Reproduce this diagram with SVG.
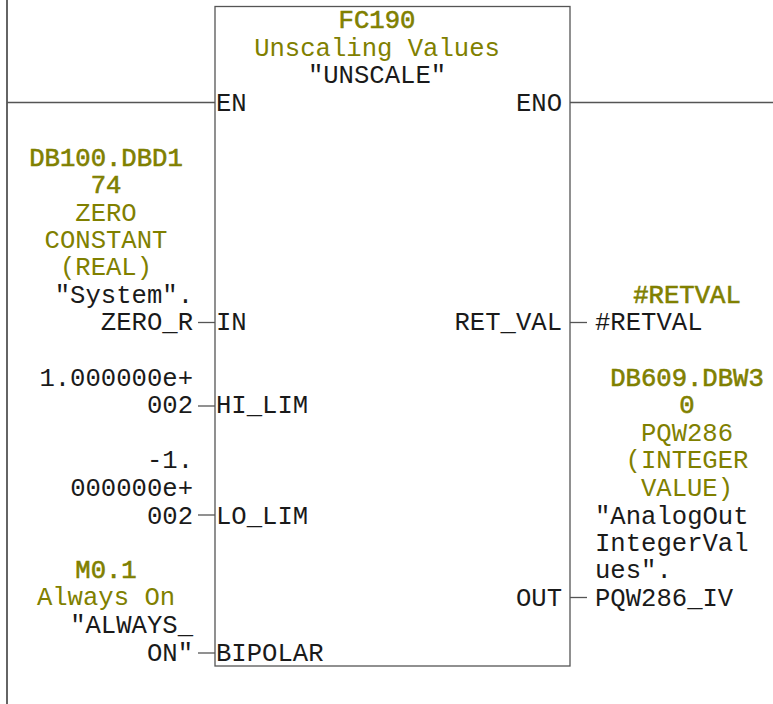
<svg xmlns="http://www.w3.org/2000/svg" width="773" height="704" viewBox="0 0 773 704">
<style>
text{font-family:"Liberation Mono","Courier New",monospace;font-size:25.6px;fill:#1a1a1a}
.g{fill:#808000}
.b{stroke:#808000;stroke-width:0.6}
.c{text-anchor:middle}
.e{text-anchor:end}
.ln{stroke:#555;stroke-width:1.3;fill:none}
.rail{stroke:#111;stroke-width:1.3;fill:none}
</style>
<rect width="773" height="704" fill="#fff"/>
<g id="connectors">
<line class="rail" x1="7" y1="0" x2="7" y2="704"/>
<line class="ln" x1="7" y1="102.5" x2="215" y2="102.5"/>
<line class="ln" x1="570" y1="102.5" x2="773" y2="102.5"/>
<line class="ln" x1="198" y1="322.5" x2="215" y2="322.5"/>
<line class="ln" x1="198" y1="406" x2="215" y2="406"/>
<line class="ln" x1="198" y1="515" x2="215" y2="515"/>
<line class="ln" x1="198" y1="653" x2="215" y2="653"/>
<line class="ln" x1="570" y1="322.5" x2="587" y2="322.5"/>
<line class="ln" x1="570" y1="597.5" x2="587" y2="597.5"/>
</g>
<g id="fc190">
<rect class="ln" x="215" y="6.5" width="355" height="659.5"/>
<text class="g b c" x="377" y="28">FC190</text>
<text class="g c" x="377" y="56">Unscaling Values</text>
<text class="c" x="377" y="83">"UNSCALE"</text>
<text x="216" y="111">EN</text>
<text class="e" x="562" y="111">ENO</text>
<text x="216" y="330">IN</text>
<text x="216" y="413">HI_LIM</text>
<text x="216" y="524">LO_LIM</text>
<text x="216" y="661">BIPOLAR</text>
<text class="e" x="562" y="330">RET_VAL</text>
<text class="e" x="562" y="606">OUT</text>
</g>
<g id="in_operand">
<text class="g b c" x="106" y="166">DB100.DBD1</text>
<text class="g b c" x="106" y="193">74</text>
<text class="g c" x="106" y="221">ZERO</text>
<text class="g c" x="106" y="248">CONSTANT</text>
<text class="g c" x="106" y="275">(REAL)</text>
<text class="e" x="193" y="303">"System".</text>
<text class="e" x="193" y="330">ZERO_R</text>
</g>
<g id="hi_lim_operand">
<text class="e" x="193" y="386">1.000000e+</text>
<text class="e" x="193" y="413">002</text>
</g>
<g id="lo_lim_operand">
<text class="e" x="193" y="468">-1.</text>
<text class="e" x="193" y="496">000000e+</text>
<text class="e" x="193" y="524">002</text>
</g>
<g id="bipolar_operand">
<text class="g b c" x="106" y="578">M0.1</text>
<text class="g c" x="106" y="605">Always On</text>
<text class="e" x="193" y="633">"ALWAYS_</text>
<text class="e" x="193" y="661">ON"</text>
</g>
<g id="retval_operand">
<text class="g b c" x="687" y="303">#RETVAL</text>
<text x="595" y="330">#RETVAL</text>
</g>
<g id="out_operand">
<text class="g b c" x="687" y="386">DB609.DBW3</text>
<text class="g b c" x="687" y="413">0</text>
<text class="g c" x="687" y="441">PQW286</text>
<text class="g c" x="687" y="468">(INTEGER</text>
<text class="g c" x="687" y="496">VALUE)</text>
<text x="595" y="524">"AnalogOut</text>
<text x="595" y="551">IntegerVal</text>
<text x="595" y="578">ues".</text>
<text x="595" y="606">PQW286_IV</text>
</g>
</svg>
